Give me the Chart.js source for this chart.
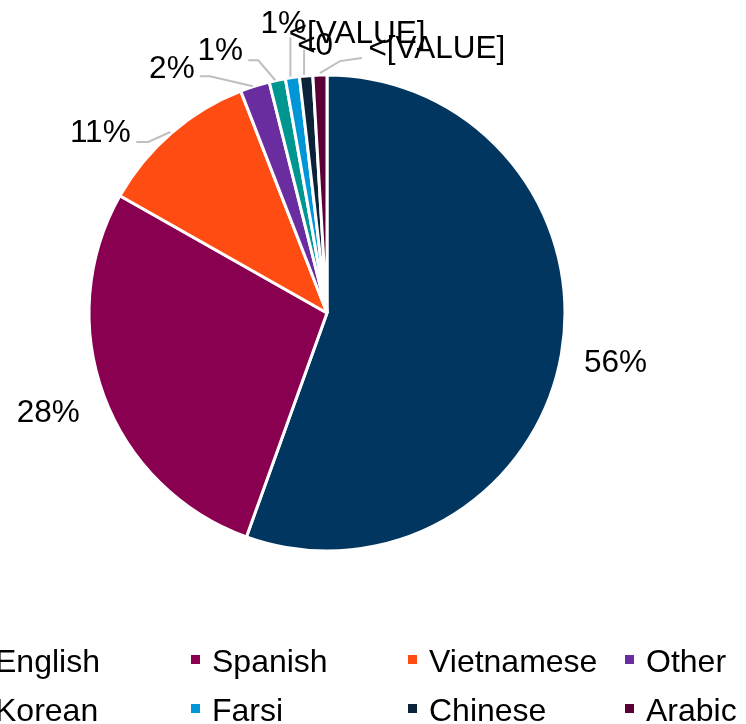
<!DOCTYPE html>
<html><head><meta charset="utf-8">
<script src="https://cdn.jsdelivr.net/npm/chart.js@4/dist/chart.umd.min.js"></script>
<style>html,body{margin:0;padding:0;background:#fff;overflow:hidden}#wrap{width:746px;height:724px;position:relative}</style>
</head><body><div id="wrap"><canvas id="c" width="746" height="724"></canvas></div>
<script>
const categories = ['English','Spanish','Vietnamese','Other','Korean','Farsi','Chinese','Arabic'];
const shares = [55.5, 27.7, 10.9, 2.0, 1.1, 0.95, 0.9, 0.95];
const valueLabels = ['56%','28%','11%','2%','1%','1%','<0','<[VALUE]'];
const extraLabels = [null,null,null,null,null,null,'<[VALUE]',null];
const colors = ['#00365F','#8A0050','#FF4C12','#6A2D9F','#009690','#0096D8','#0B2239','#5B0036'];

const FONT = '"Liberation Sans", Arial, sans-serif';

// label layout relative to each slice's outer mid point
const labelOffsets = [[54,18],[-55.5,26],[-71,9],[-83,-8],[-57,-20],[-9,-45],[9,-21],[117,-17]];
const extraOffsets = [null,null,null,null,null,null,[51,-33],null];
const leaderPaths = [null,null,
  [[-1,-1],[-23,9],[-35,9]],
  [[-2,0],[-45,-10],[-55,-10]],
  [[-2,0],[-19,-20],[-29,-20]],
  [[-2,-1],[-2,-40]],
  [[-2,-1],[-2,-26]],
  [[0,-2],[20,-14],[42,-17]]];

const labelPlugin = {
  id: 'sliceLabels',
  afterDatasetsDraw(chart) {
    const ctx = chart.ctx;
    const meta = chart.getDatasetMeta(0);
    ctx.save();
    meta.data.forEach((arc, i) => {
      const p = arc.getProps(['x','y','startAngle','endAngle','outerRadius'], true);
      const a = (p.startAngle + p.endAngle) / 2;
      const px = p.x + p.outerRadius * Math.cos(a);
      const py = p.y + p.outerRadius * Math.sin(a);
      const lp = leaderPaths[i];
      if (lp) {
        ctx.beginPath();
        ctx.strokeStyle = '#BFBFBF';
        ctx.lineWidth = 2;
        lp.forEach((pt, k) => { const X = px + pt[0], Y = py + pt[1]; if (k === 0) ctx.moveTo(X, Y); else ctx.lineTo(X, Y); });
        ctx.stroke();
      }
      ctx.fillStyle = '#000';
      ctx.font = '31.5px ' + FONT;
      ctx.textAlign = 'center';
      ctx.textBaseline = 'alphabetic';
      const o = labelOffsets[i];
      ctx.fillText(valueLabels[i], px + o[0], py + o[1]);
      if (extraLabels[i]) {
        const e = extraOffsets[i];
        ctx.fillText(extraLabels[i], px + e[0], py + e[1]);
      }
    });
    ctx.restore();
  }
};

const legendPlugin = {
  id: 'gridLegend',
  afterDraw(chart) {
    const ctx = chart.ctx;
    ctx.save();
    ctx.font = '32px ' + FONT;
    ctx.textBaseline = 'alphabetic';
    ctx.textAlign = 'left';
    categories.forEach((name, i) => {
      const col = i % 4, row = Math.floor(i / 4);
      const tx = -5 + col * 217;
      const base = 672 + row * 49;
      ctx.fillStyle = colors[i];
      ctx.fillRect(tx - 21, base - 17, 9, 9);
      ctx.fillStyle = '#000';
      ctx.fillText(name, tx, base);
    });
    ctx.restore();
  }
};

new Chart(document.getElementById('c'), {
  type: 'pie',
  data: {
    labels: categories,
    datasets: [{
      data: shares,
      backgroundColor: colors,
      borderColor: '#FFFFFF',
      borderWidth: 3
    }]
  },
  options: {
    responsive: false,
    devicePixelRatio: 1,
    animation: false,
    radius: 238,
    layout: { padding: { left: 88, right: 180, top: 74, bottom: 172 } },
    plugins: { legend: { display: false }, tooltip: { enabled: false } }
  },
  plugins: [labelPlugin, legendPlugin]
});
</script></body></html>
